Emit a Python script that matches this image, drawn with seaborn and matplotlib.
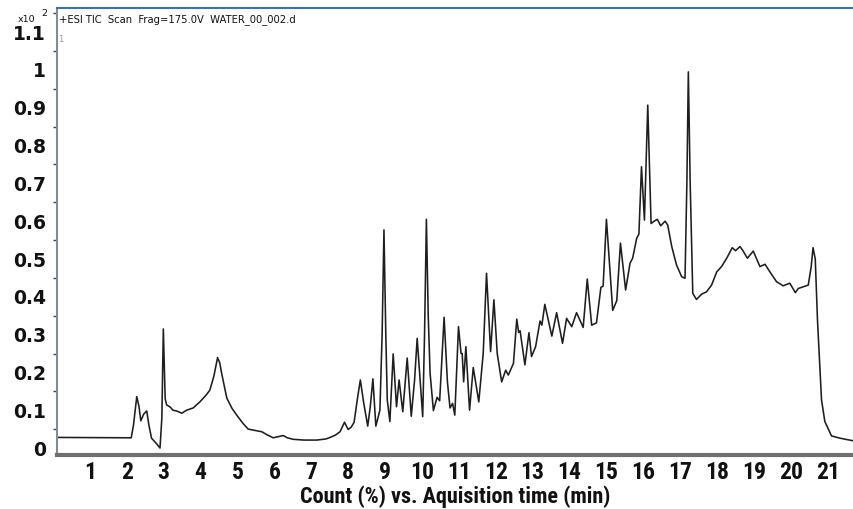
import matplotlib
matplotlib.use("Agg")
import matplotlib.pyplot as plt
from matplotlib.ticker import MultipleLocator
from matplotlib import font_manager
import numpy as np
import pandas as pd
import seaborn as sns

# ---- data (retention time in min, count in % x10^2) ----
time_min = [
    0.10, 2.12, 2.18, 2.27, 2.33, 2.38, 2.46, 2.54, 2.60, 2.67, 2.80, 2.90, 2.95, 2.99, 3.04,
    3.08, 3.18, 3.25, 3.35, 3.49, 3.62, 3.80, 3.98, 4.15, 4.25, 4.36, 4.46, 4.52, 4.57, 4.71,
    4.85, 4.98, 5.15, 5.29, 5.50, 5.66, 5.80, 5.97, 6.10, 6.24, 6.35, 6.51, 6.80, 7.15, 7.40,
    7.51, 7.65, 7.78, 7.90, 8.00, 8.08, 8.16, 8.25, 8.33, 8.42, 8.53, 8.60, 8.67, 8.75, 8.86,
    8.92, 8.97, 9.02, 9.06, 9.13, 9.22, 9.31, 9.38, 9.48, 9.60, 9.71, 9.80, 9.87, 9.95, 10.02,
    10.07, 10.12, 10.17, 10.22, 10.31, 10.41, 10.48, 10.60, 10.69, 10.76, 10.83, 10.89, 10.99, 11.06, 11.09,
    11.13, 11.19, 11.29, 11.39, 11.54, 11.66, 11.75, 11.86, 11.95, 12.04, 12.16, 12.27, 12.34, 12.48, 12.57,
    12.62, 12.66, 12.79, 12.90, 12.97, 13.08, 13.20, 13.25, 13.33, 13.52, 13.65, 13.81, 13.92, 14.06, 14.19,
    14.37, 14.48, 14.60, 14.73, 14.85, 14.91, 15.00, 15.17, 15.28, 15.38, 15.52, 15.64, 15.71, 15.82, 15.88,
    15.95, 16.03, 16.12, 16.21, 16.31, 16.38, 16.47, 16.59, 16.66, 16.77, 16.90, 17.04, 17.13, 17.18, 17.22,
    17.27, 17.34, 17.44, 17.58, 17.71, 17.85, 17.99, 18.12, 18.26, 18.41, 18.50, 18.62, 18.70, 18.82, 18.98,
    19.16, 19.30, 19.43, 19.61, 19.79, 19.97, 20.12, 20.20, 20.47, 20.55, 20.60, 20.66, 20.72, 20.79, 20.83,
    20.92, 21.10, 21.33, 21.69,
]
count = [
    0.028, 0.027, 0.060, 0.136, 0.110, 0.072, 0.090, 0.098, 0.060, 0.026, 0.012, 0.000, 0.080, 0.315, 0.130,
    0.114, 0.108, 0.100, 0.098, 0.092, 0.100, 0.106, 0.122, 0.140, 0.153, 0.190, 0.239, 0.225, 0.198, 0.132,
    0.105, 0.087, 0.065, 0.050, 0.046, 0.043, 0.035, 0.027, 0.030, 0.033, 0.027, 0.023, 0.021, 0.021, 0.024,
    0.028, 0.034, 0.043, 0.068, 0.049, 0.055, 0.068, 0.130, 0.180, 0.120, 0.058, 0.110, 0.183, 0.058, 0.100,
    0.300, 0.577, 0.300, 0.127, 0.070, 0.249, 0.109, 0.180, 0.096, 0.238, 0.084, 0.180, 0.290, 0.180, 0.083,
    0.300, 0.605, 0.350, 0.198, 0.099, 0.134, 0.125, 0.346, 0.175, 0.106, 0.118, 0.087, 0.321, 0.250, 0.250,
    0.175, 0.268, 0.100, 0.213, 0.122, 0.250, 0.462, 0.255, 0.392, 0.250, 0.175, 0.206, 0.193, 0.224, 0.341,
    0.306, 0.310, 0.220, 0.305, 0.242, 0.268, 0.336, 0.325, 0.380, 0.296, 0.358, 0.277, 0.343, 0.321, 0.358,
    0.319, 0.447, 0.325, 0.331, 0.425, 0.428, 0.605, 0.364, 0.390, 0.542, 0.418, 0.489, 0.502, 0.555, 0.566,
    0.744, 0.603, 0.907, 0.594, 0.601, 0.605, 0.588, 0.600, 0.590, 0.533, 0.484, 0.453, 0.449, 0.700, 0.995,
    0.700, 0.409, 0.393, 0.407, 0.413, 0.431, 0.466, 0.480, 0.502, 0.530, 0.522, 0.533, 0.522, 0.502, 0.521,
    0.480, 0.486, 0.466, 0.440, 0.429, 0.436, 0.411, 0.422, 0.431, 0.480, 0.530, 0.500, 0.339, 0.206, 0.127,
    0.070, 0.032, 0.026, 0.019,
]
x_ticks = list(range(1, 22))
y_ticks = [0, 0.1, 0.2, 0.3, 0.4, 0.5, 0.6, 0.7, 0.8, 0.9, 1, 1.1]
y_tick_labels = ["0", "0.1", "0.2", "0.3", "0.4", "0.5", "0.6", "0.7", "0.8", "0.9", "1", "1.1"]
header = "+ESI TIC  Scan  Frag=175.0V  WATER_00_002.d"
x_label = "Count (%) vs. Aquisition time (min)"

df = pd.DataFrame({"time": time_min, "count": count})

sns.set_style("white")
plt.rcParams["font.family"] = ["DejaVu Sans"]

# pick a narrow bold family if one exists
names = {f.name for f in font_manager.fontManager.ttflist}
narrow = None
for cand in ["Roboto Condensed", "Liberation Sans Narrow", "Arial Narrow", "Open Sans Condensed",
             "DejaVu Sans Condensed"]:
    if cand in names:
        narrow = cand
        break
if narrow is None:
    narrow_family = ["Liberation Sans", "DejaVu Sans"]
    x_size, xl_size = 14.5, 13
else:
    narrow_family = [narrow, "DejaVu Sans"]
    x_size, xl_size = 17, 16

W, H = 854, 509
fig = plt.figure(figsize=(W / 100, H / 100), dpi=100)
# axes: px x 57..854, py 8..455
ax = fig.add_axes([57 / W, 1 - 455 / H, (W - 57) / W, (455 - 8) / H])

sns.lineplot(data=df, x="time", y="count", ax=ax, color="#1e1e1e", linewidth=1.15,
             estimator=None, sort=False)

ax.set_xlim(0.108, 21.71)
ax.set_ylim(-0.0185, 1.164)

ax.tick_params(axis="x", direction="out", length=4, width=1, color="#555555", pad=0, labelcolor="#111111")
ax.tick_params(axis="y", which="major", direction="out", length=5, width=1, color="#444444", pad=3)
ax.tick_params(axis="y", which="minor", direction="out", length=3, width=1, color="#444444", left=True)

ax.set_xticks(x_ticks)
ax.set_xticklabels([str(t) for t in x_ticks], family=narrow_family, fontweight="bold",
                   fontsize=x_size, color="#111111")
ax.set_yticks(y_ticks)
ax.set_yticklabels(y_tick_labels, fontweight="bold", fontsize=13.5, color="#111111")
ax.yaxis.set_minor_locator(MultipleLocator(0.05))

ax.set_xlabel(x_label, family=narrow_family, fontweight="bold",
              fontsize=xl_size, color="#111111", labelpad=1)
ax.set_ylabel("")

for side in ["top", "left", "bottom", "right"]:
    ax.spines[side].set_visible(True)
ax.spines["top"].set_color("#3f6fb5")
ax.spines["top"].set_linewidth(1.5)
ax.spines["left"].set_color("#7f8c99")
ax.spines["left"].set_linewidth(1.5)
ax.spines["bottom"].set_color("#6f6f6f")
ax.spines["bottom"].set_linewidth(3)
ax.spines["right"].set_visible(False)

# header annotations
fig.text(59 / W, 1 - 20 / H, header, fontsize=7.2, color="#111111", va="center", ha="left")
fig.text(18 / W, 1 - 20 / H, "x10", fontsize=6.8, color="#111111", va="center", ha="left")
fig.text(41 / W, 1 - 13 / H, "2", fontsize=6.8, color="#111111", va="center", ha="left")
fig.text(58 / W, 1 - 40 / H, "1", fontsize=6, color="#999999", va="center", ha="left")

fig.savefig("out.png", dpi=100, facecolor="white")
